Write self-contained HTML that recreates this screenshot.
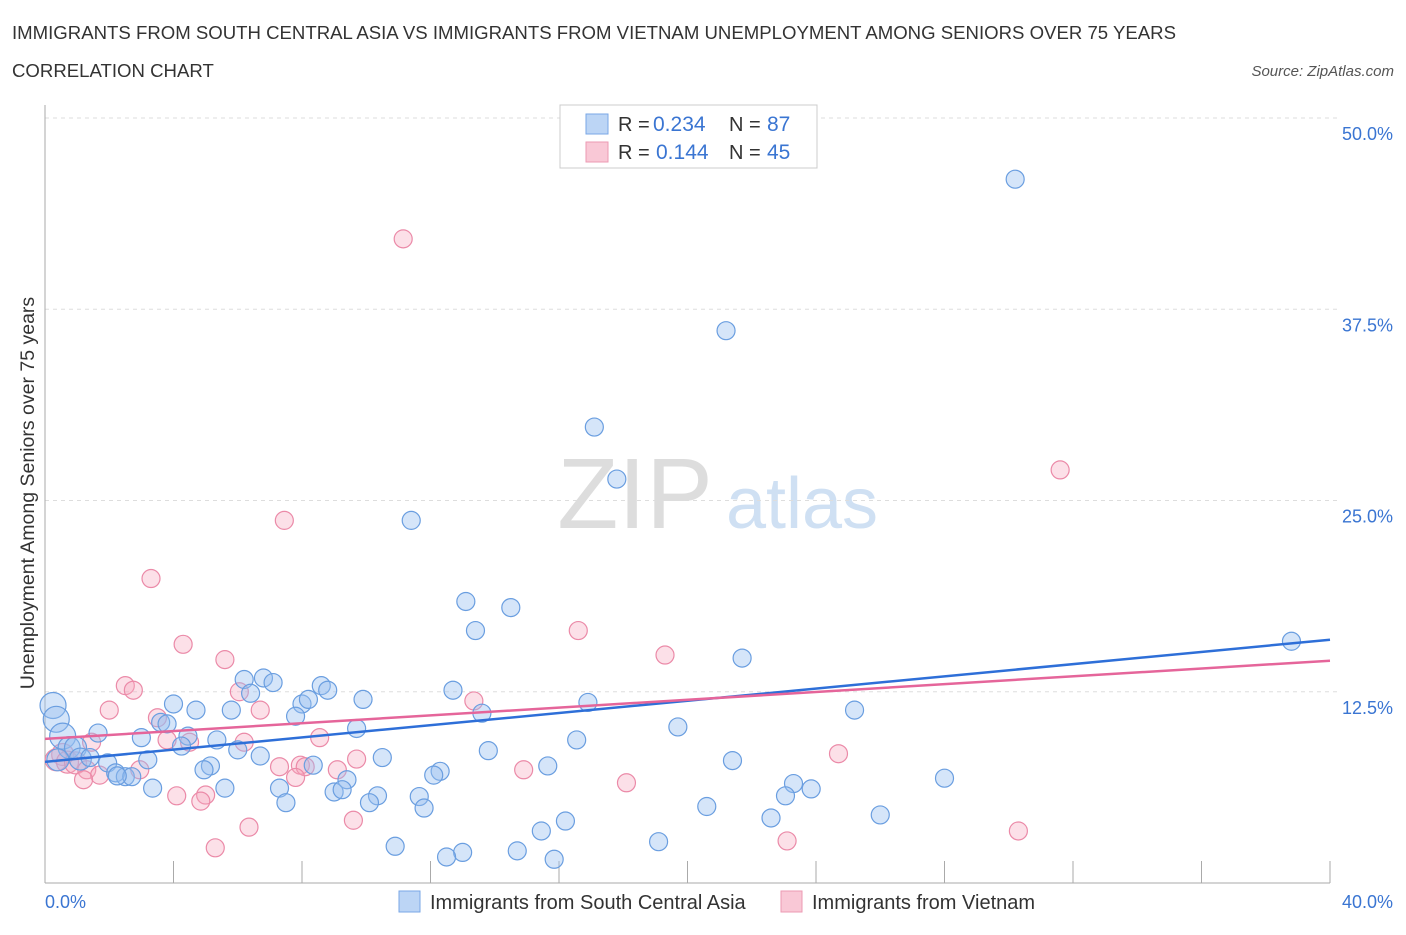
<!DOCTYPE html>
<html><head><meta charset="utf-8"><style>
body{margin:0;background:#fff;font-family:"Liberation Sans",sans-serif;}
svg text{font-family:"Liberation Sans",sans-serif;}
</style></head><body>
<svg id="chart" width="1406" height="930" xmlns="http://www.w3.org/2000/svg">
<text x="12" y="39" font-size="18.6" fill="#333">IMMIGRANTS FROM SOUTH CENTRAL ASIA VS IMMIGRANTS FROM VIETNAM UNEMPLOYMENT AMONG SENIORS OVER 75 YEARS</text>
<text x="12" y="77" font-size="18.6" fill="#333">CORRELATION CHART</text>
<text x="1394" y="76" font-size="15" fill="#555" font-style="italic" text-anchor="end">Source: ZipAtlas.com</text>
<g>
<text x="635" y="528" font-size="100" fill="#ddd" font-family="Liberation Serif" text-anchor="middle">ZIP</text>
<text x="802" y="528" font-size="72" fill="#cfe0f3" text-anchor="middle">atlas</text>
</g>
<g id="grid"></g>
<g id="axes"></g>
<g id="marks"></g>
<text transform="translate(34,493) rotate(-90)" font-size="19.5" fill="#333" text-anchor="middle">Unemployment Among Seniors over 75 years</text>
<g>
<rect x="560" y="105" width="257" height="63" fill="#fff" stroke="#ccc"/>
<rect x="586" y="114" width="22" height="20" fill="#bcd5f5" stroke="#7aa7e6"/>
<rect x="586" y="142" width="22" height="20" fill="#f9c8d6" stroke="#ec9ab3"/>
<text x="618" y="131" font-size="20" fill="#333">R =</text>
<text x="653" y="131" font-size="21" fill="#3a75d2">0.234</text>
<text x="729" y="131" font-size="20" fill="#333">N =</text>
<text x="767" y="131" font-size="21" fill="#3a75d2">87</text>
<text x="618" y="159" font-size="20" fill="#333">R =</text>
<text x="656" y="159" font-size="21" fill="#3a75d2">0.144</text>
<text x="729" y="159" font-size="20" fill="#333">N =</text>
<text x="767" y="159" font-size="21" fill="#3a75d2">45</text>
</g>
<g>
<rect x="399" y="891" width="21" height="21" fill="#bcd5f5" stroke="#7aa7e6"/>
<text x="430" y="909" font-size="20" fill="#333">Immigrants from South Central Asia</text>
<rect x="781" y="891" width="21" height="21" fill="#f9c8d6" stroke="#ec9ab3"/>
<text x="812" y="909" font-size="20" fill="#333">Immigrants from Vietnam</text>
</g>
</svg>
<script>
const blueX=[30.2,21.2,17.1,17.8,11.4,13.1,14.5,13.4,38.8,21.7,6.8,6.2,7.1,8.6,8.8,6.4,12.7,4.0,8.0,8.2,9.9,16.9,4.7,5.8,7.8,13.6,25.2,0.25,0.35,3.6,3.8,19.7,9.7,0.55,1.65,4.45,3.0,5.35,16.55,4.25,0.75,0.95,6.0,13.8,10.5,6.7,3.2,1.1,21.4,1.95,5.15,15.65,4.95,8.35,2.2,12.3,12.1,2.5,2.7,2.25,9.4,28.0,23.3,23.85,3.35,5.6,7.3,10.35,9.0,9.25,23.05,11.65,10.1,7.5,11.8,20.6,26.0,22.6,16.2,15.45,19.1,10.9,14.7,13.0,12.5,15.85,1.4,0.4];
const blueY=[46.0,36.1,29.8,26.4,23.7,18.4,18.0,16.5,15.8,14.7,13.4,13.3,13.1,12.9,12.6,12.4,12.6,11.7,11.7,12.0,12.0,11.8,11.3,11.3,10.9,11.1,11.3,11.6,10.7,10.5,10.4,10.2,10.1,9.6,9.8,9.6,9.5,9.35,9.35,8.95,8.85,8.85,8.7,8.65,8.2,8.3,8.05,8.1,8.0,7.85,7.65,7.65,7.4,7.7,7.2,7.3,7.05,6.95,6.95,7.0,6.75,6.85,6.5,6.15,6.2,6.2,6.2,5.7,5.95,6.1,5.7,5.65,5.25,5.25,4.9,5.0,4.45,4.25,4.05,3.4,2.7,2.4,2.1,2.0,1.7,1.55,8.2,8.05];
const pinkX=[11.15,31.6,7.45,3.3,16.6,4.3,19.3,5.6,2.5,2.75,13.35,6.05,2.0,6.7,3.5,3.8,8.55,4.5,6.2,1.45,24.7,9.7,0.55,0.35,0.7,0.95,7.95,8.1,14.9,2.95,9.1,7.3,7.8,1.3,1.7,1.2,18.1,4.1,5.0,4.85,9.6,6.35,23.1,30.3,5.3];
const pinkY=[42.1,27.0,23.7,19.9,16.5,15.6,14.9,14.6,12.9,12.6,11.9,12.5,11.3,11.3,10.8,9.35,9.5,9.2,9.2,9.2,8.45,8.1,8.4,8.05,7.9,7.85,7.7,7.6,7.4,7.4,7.4,7.6,6.9,7.4,7.05,6.75,6.55,5.7,5.75,5.35,4.1,3.65,2.75,3.4,2.3];
const blueTrend=[7.92,15.9];
const pinkTrend=[9.42,14.53];
const yTicks=[12.5,25,37.5,50];
const yTickLabels=["12.5%","25.0%","37.5%","50.0%"];
const xTickValues=[0,4,8,12,16,20,24,28,32,36,40];

const NS="http://www.w3.org/2000/svg";
const X0=45,X1=1330,Y0=883,Y50=118;
const sx=v=>X0+(X1-X0)*v/40;
const sy=v=>Y0-(Y0-Y50)*v/50;
function mk(tag,attrs,parent){const e=document.createElementNS(NS,tag);for(const k in attrs)e.setAttribute(k,attrs[k]);parent.appendChild(e);return e;}
const grid=document.getElementById('grid'),axes=document.getElementById('axes'),marks=document.getElementById('marks');
yTicks.forEach((t,i)=>{
 const l=mk('line',{x1:X0,x2:X1+10,y1:sy(t),y2:sy(t),stroke:'#ddd','stroke-dasharray':'4,4'},grid);
 
 
 const tx=mk('text',{x:1393,y:sy(t)+22,'font-size':18,fill:'#3a75d2','text-anchor':'end'},axes);
 tx.textContent=yTickLabels[i];
 
 
});
const ax=mk('line',{x1:X0,x2:X0,y1:105,y2:Y0,stroke:'#aaa'},axes);


const bx=mk('line',{x1:X0,x2:X1,y1:Y0,y2:Y0,stroke:'#aaa'},axes);


xTickValues.forEach(v=>{
 const t=mk('line',{x1:sx(v),x2:sx(v),y1:Y0-22,y2:Y0,stroke:'#aaa'},axes);
 
 
});
const xl0=mk('text',{x:45,y:908,'font-size':18,fill:'#3a75d2'},axes);xl0.textContent='0.0%';


const xl1=mk('text',{x:1393,y:908,'font-size':18,fill:'#3a75d2','text-anchor':'end'},axes);xl1.textContent='40.0%';


function pts(xs,ys,fill,stroke,name){
 xs.forEach((x,i)=>{
  const r=(x<1&&ys[i]>9.5)?13:(x<1.2?11:9);
  const c=mk('circle',{cx:sx(x),cy:sy(ys[i]),r:r,fill:fill,stroke:stroke,'stroke-width':1.2},marks);
  
  
 });
}
pts(pinkX,pinkY,'rgba(245,165,190,0.35)','#eb8aa8','point-vietnam');
pts(blueX,blueY,'rgba(150,190,240,0.4)','#6a9ee0','point-south-central-asia');
const bl=mk('line',{x1:sx(0),x2:sx(40),y1:sy(blueTrend[0]),y2:sy(blueTrend[1]),stroke:'#2e6fd8','stroke-width':2.5},marks);


const pl=mk('line',{x1:sx(0),x2:sx(40),y1:sy(pinkTrend[0]),y2:sy(pinkTrend[1]),stroke:'#e5659a','stroke-width':2.5},marks);


</script>
</body></html>
